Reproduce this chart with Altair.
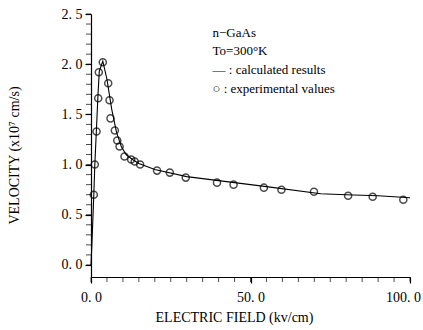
import altair as alt
import pandas as pd

# Experimental values (circles)
exp_x = [0.88, 1.19, 1.73, 2.26, 2.45, 3.70, 5.40, 5.81, 6.12, 7.47, 8.23, 8.95,
         10.5, 12.6, 13.7, 15.4, 20.7, 24.7, 29.7, 39.5, 44.7, 54.2, 59.7, 69.9,
         80.6, 88.3, 97.9]
exp_y = [0.70, 1.00, 1.33, 1.66, 1.92, 2.02, 1.81, 1.64, 1.46, 1.34, 1.24, 1.18,
         1.08, 1.05, 1.03, 1.00, 0.94, 0.92, 0.87, 0.82, 0.80, 0.77, 0.75, 0.73,
         0.69, 0.68, 0.65]

# Calculated results (line)
calc_x = [0.0, 0.3, 0.88, 1.2, 1.7, 2.2, 2.6, 3.7, 5.0, 6.5, 8.0, 9.5, 11.0,
          13.0, 15.0, 20.0, 30.0, 40.0, 55.0, 72.0, 80.0, 90.0, 100.0]
calc_y = [0.0, 0.22, 0.70, 1.00, 1.35, 1.70, 1.93, 2.03, 1.85, 1.55, 1.32, 1.18,
          1.10, 1.05, 1.01, 0.95, 0.88, 0.84, 0.78, 0.71, 0.70, 0.69, 0.67]

# Annotation
note_text = ["n\u2212GaAs", "To=300\u00b0K", "\u2014 : calculated results", "\u25cb : experimental values"]
note_x = [38.1, 38.1, 38.1, 38.1]
note_y = [2.31, 2.13, 1.94, 1.75]

x_major = [0, 50, 100]
y_major = [0.0, 0.5, 1.0, 1.5, 2.0, 2.5]
x_minor = [i * 5 for i in range(21)]
y_minor = [round(i * 0.1, 1) for i in range(26)]

X_MIN, Y_MIN = 0, -0.12

FONT = "Liberation Serif"

exp_df = pd.DataFrame({"x": exp_x, "y": exp_y})
calc_df = pd.DataFrame({"x": calc_x, "y": calc_y, "o": list(range(len(calc_x)))})
note_df = pd.DataFrame({"t": note_text, "x": note_x, "y": note_y})
xminor_df = pd.DataFrame({"x": x_minor})
yminor_df = pd.DataFrame({"y": y_minor})

xscale = alt.Scale(domain=[X_MIN, 100], nice=False, zero=False)
yscale = alt.Scale(domain=[Y_MIN, 2.5], nice=False, zero=False)

xaxis = alt.Axis(
    values=x_major, orient="bottom",
    labelExpr="replace(format(datum.value, '.1f'), '.', '. ')",
    labelOffset={"condition": {"test": "datum.value == 100", "value": -7}, "value": 0},
    labelOverlap=False, labelFlush=False, grid=False, tickSize=6, labelPadding=7,
    labelFont=FONT, labelFontSize=14, labelColor="black",
    domainColor="black", tickColor="black", domainWidth=1.2, tickWidth=1.2,
    title="ELECTRIC FIELD (kv/cm)", titleFont=FONT, titleFontSize=14,
    titleFontWeight="normal", titleColor="black",
    titleX=143, titleY=40, titleBaseline="middle", titleAlign="center",
)
yaxis = alt.Axis(
    values=y_major, orient="left",
    labelExpr="replace(format(datum.value, '.1f'), '.', '. ')",
    labelOverlap=False, labelFlush=False, grid=False, tickSize=6, labelPadding=3,
    labelFont=FONT, labelFontSize=14, labelColor="black", labelBaseline="middle",
    domainColor="black", tickColor="black", domainWidth=1.2, tickWidth=1.2,
    title="VELOCITY (x10\u2077 cm/s)", titleFont=FONT, titleFontSize=14,
    titleFontWeight="normal", titleColor="black",
    titleX=-77, titleY=141, titleBaseline="middle", titleAlign="center", titleAngle=-90,
)

line = alt.Chart(calc_df).mark_line(color="black", strokeWidth=1.1).encode(
    x=alt.X("x:Q", scale=xscale, axis=xaxis),
    y=alt.Y("y:Q", scale=yscale, axis=yaxis),
    order="o:Q",
)
pts = alt.Chart(exp_df).mark_point(shape="circle", filled=False, color="black",
                                   size=50, strokeWidth=1.5).encode(
    x=alt.X("x:Q", scale=xscale, axis=None),
    y=alt.Y("y:Q", scale=yscale, axis=None),
)
notes = alt.Chart(note_df).mark_text(align="left", baseline="middle", font=FONT,
                                     fontSize=13, color="black").encode(
    x=alt.X("x:Q", scale=xscale, axis=None),
    y=alt.Y("y:Q", scale=yscale, axis=None),
    text="t:N",
)
# minor ticks along the axes
xminor = alt.Chart(xminor_df).mark_tick(orient="vertical", color="black", size=5,
                                        thickness=1, yOffset=2.5).encode(
    x=alt.X("x:Q", scale=xscale, axis=None),
    y=alt.Y(datum=Y_MIN, type="quantitative", scale=yscale, axis=None),
)
yminor = alt.Chart(yminor_df).mark_tick(orient="horizontal", color="black", size=5,
                                        thickness=1, xOffset=-2.5).encode(
    x=alt.X(datum=X_MIN, type="quantitative", scale=xscale, axis=None),
    y=alt.Y("y:Q", scale=yscale, axis=None),
)

chart = alt.layer(line, pts, notes, xminor, yminor).resolve_axis(
    x="independent", y="independent"
).properties(
    width=319, height=263,
    autosize=alt.AutoSizeParams(type="none"),
    padding={"left": 91, "top": 14, "right": 13, "bottom": 53},
    background="white",
).configure_view(stroke=None)

chart.save("out.html", embed_options={"renderer": "svg", "actions": False})
